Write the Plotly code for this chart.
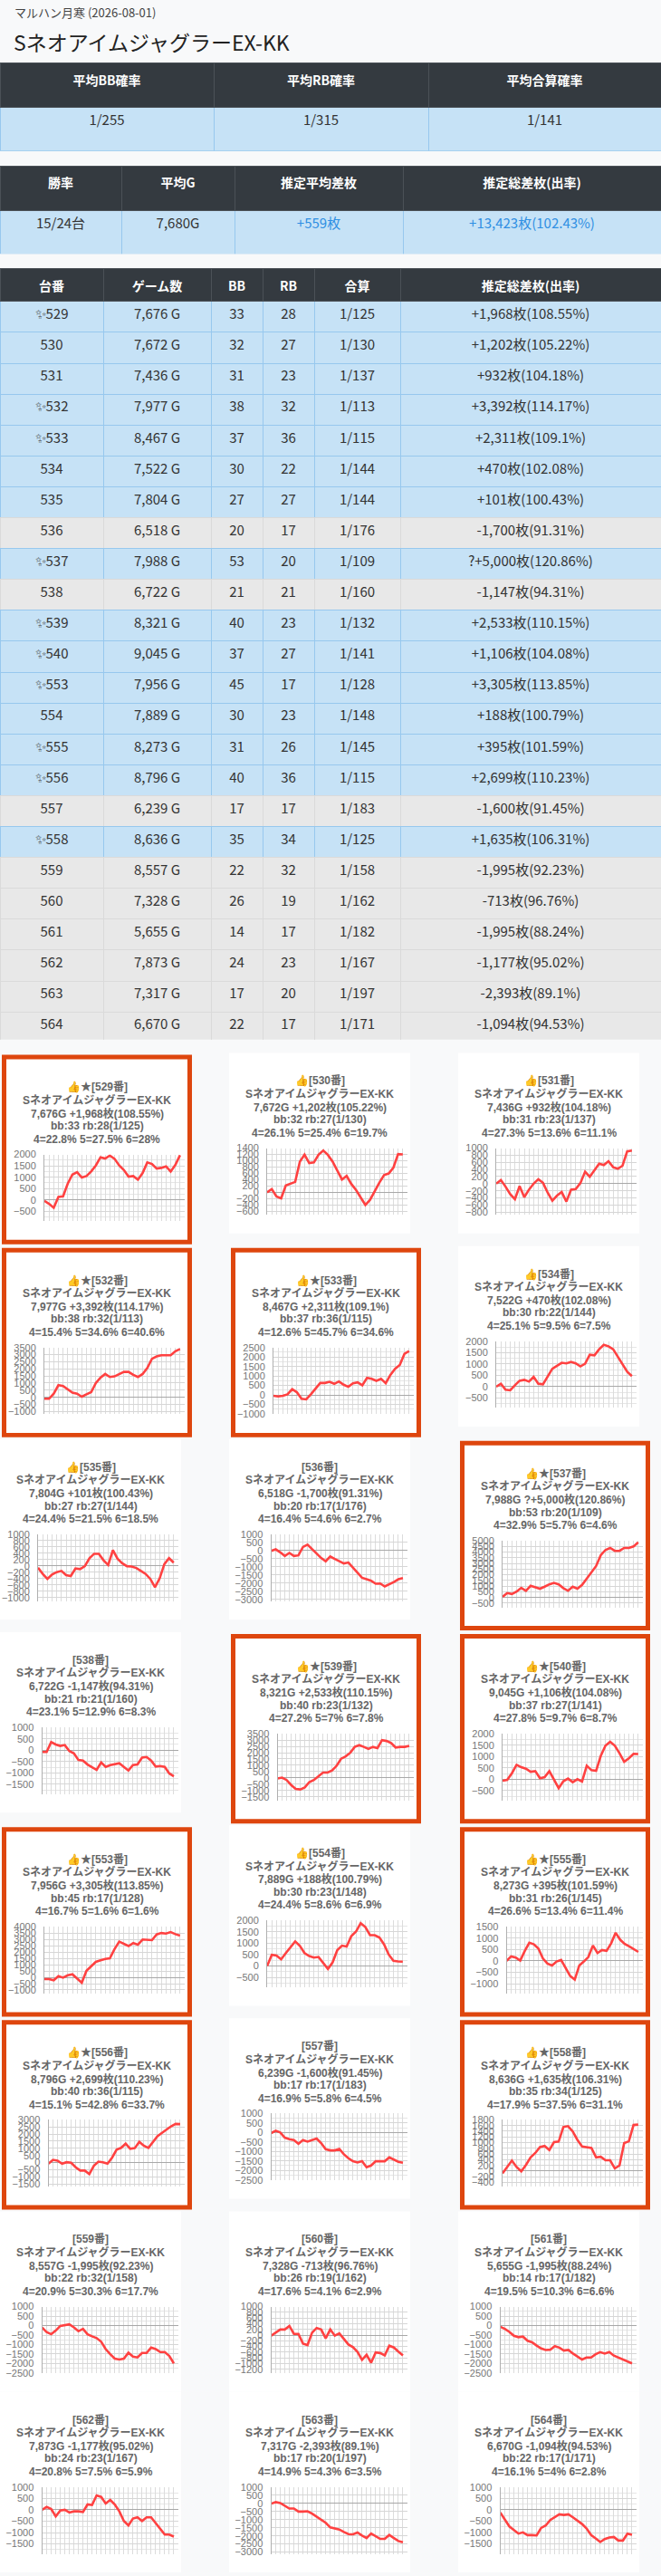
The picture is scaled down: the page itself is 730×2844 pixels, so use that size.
import plotly.graph_objects as go

W, H = 730, 2844

store_title = "マルハン月寒 (2026-08-01)"
model_name = "SネオアイムジャグラーEX-KK"

sum_headers = ["平均BB確率", "平均RB確率", "平均合算確率"]
sum_values = ["1/255", "1/315", "1/141"]
stat_headers = ["勝率", "平均G", "推定平均差枚", "推定総差枚(出率)"]
stat_values = ["15/24台", "7,680G", "+559枚", "+13,423枚(102.43%)"]
list_headers = ["台番", "ゲーム数", "BB", "RB", "合算", "推定総差枚(出率)"]

machines = [529, 530, 531, 532, 533, 534, 535, 536, 537, 538, 539, 540,
            553, 554, 555, 556, 557, 558, 559, 560, 561, 562, 563, 564]
games = [7676, 7672, 7436, 7977, 8467, 7522, 7804, 6518, 7988, 6722, 8321, 9045,
         7956, 7889, 8273, 8796, 6239, 8636, 8557, 7328, 5655, 7873, 7317, 6670]
bb = [33, 32, 31, 38, 37, 30, 27, 20, 53, 21, 40, 37, 45, 30, 31, 40, 17, 35, 22, 26, 14, 24, 17, 22]
rb = [28, 27, 23, 32, 36, 22, 27, 17, 20, 21, 23, 27, 17, 23, 26, 36, 17, 34, 32, 19, 17, 23, 20, 17]
gassan = [125, 130, 137, 113, 115, 144, 144, 176, 109, 160, 132, 141,
          128, 148, 145, 115, 183, 125, 158, 162, 182, 167, 197, 171]
diffs = ["+1,968", "+1,202", "+932", "+3,392", "+2,311", "+470", "+101", "-1,700",
         "?+5,000", "-1,147", "+2,533", "+1,106", "+3,305", "+188", "+395", "+2,699",
         "-1,600", "+1,635", "-1,995", "-713", "-1,995", "-1,177", "-2,393", "-1,094"]
rates = ["108.55", "105.22", "104.18", "114.17", "109.1", "102.08", "100.43", "91.31",
         "120.86", "94.31", "110.15", "104.08", "113.85", "100.79", "101.59", "110.23",
         "91.45", "106.31", "92.23", "96.76", "88.24", "95.02", "89.1", "94.53"]
starred = [529, 532, 533, 537, 539, 540, 553, 555, 556, 558]
p4 = ["22.8", "26.1", "27.3", "15.4", "12.6", "25.1", "24.4", "16.4", "32.9", "23.1", "27.2", "27.8",
      "16.7", "24.4", "26.6", "15.1", "16.9", "17.9", "20.9", "17.6", "19.5", "20.8", "14.9", "16.1"]
p5 = ["27.5", "25.4", "13.6", "34.6", "45.7", "9.5", "21.5", "4.6", "5.7", "12.9", "7", "9.7",
      "1.6", "8.6", "13.4", "42.8", "5.8", "37.5", "30.3", "4.1", "10.3", "7.5", "4.3", "4"]
p6 = ["28", "19.7", "11.1", "40.6", "34.6", "7.5", "18.5", "2.7", "4.6", "8.3", "7.8", "8.7",
      "1.6", "6.9", "11.4", "33.7", "4.5", "31.1", "17.7", "2.9", "6.6", "5.9", "3.5", "2.8"]

# y-axis tick spec per mini chart: top label, bottom label, step
ytop = [2000, 1400, 1000, 3500, 2500, 2000, 1000, 1000, 5000, 1000, 3500, 2000,
        4000, 2000, 1500, 3000, 1000, 1800, 1000, 1000, 1000, 1000, 1000, 1000]
ybot = [-500, -400, -600, -500, -500, -500, -800, -2500, 0, -1500, -1000, -500,
        -500, -500, -1000, -1000, -2000, -200, -2000, -1000, -2000, -1500, -2500, -1500]
ystep = [500, 200, 200, 500, 500, 500, 200, 500, 500, 500, 500, 500,
         500, 500, 500, 500, 500, 200, 500, 200, 500, 500, 500, 500]

# coin-difference trend series
s529 = [-40, -173, -346, 133, 160, 718, 1117, 1224, 984, 1051, 1250, 1516, 1875, 1822, 1955, 1809, 1516, 1317, 1024, 1051, 891, 1184, 1649, 1583, 1383, 1410, 1476, 1250, 1543, 1968]
s530 = [0, 104, -133, -190, 218, 284, 331, 975, 1193, 928, 947, 1193, 1326, 1184, 975, 691, 407, 521, 265, 76, -161, -398, -237, 57, 312, 549, 597, 786, 1212, 1202]
s531 = [0, 101, -84, -295, -438, -67, -379, -168, 0, 126, 25, -253, -480, -337, -236, -505, -168, -152, 17, 337, 194, 379, 564, 522, 632, 463, 421, 505, 909, 932]
s532 = [-106, -106, 256, 852, 788, 575, 320, 256, 43, 213, 362, 1001, 1385, 1640, 1427, 1470, 1640, 1789, 1789, 1576, 1427, 1640, 2066, 2705, 2876, 2961, 2961, 2961, 3238, 3392]
s533 = [-47, -79, -47, 32, 300, 142, -205, -237, 32, 348, 632, 632, 695, 585, 711, 537, 427, 616, 664, 506, 900, 853, 743, 853, 616, 1059, 1375, 1580, 2165, 2311]
s534 = [0, 132, -132, -158, 66, 263, 303, 224, 434, 132, 105, 461, 790, 921, 1053, 1026, 1092, 1026, 895, 1013, 1408, 1382, 1645, 1842, 1777, 1645, 1316, 987, 658, 470]
s535 = [-56, -253, -412, -272, -197, -159, -291, -319, -84, -103, -9, 244, 384, 384, 178, 28, 497, 225, 84, -9, -19, -66, -159, -253, -412, -675, -394, 56, 244, 101]
s536 = [-18, 74, -110, -332, -147, -332, -295, 221, 368, 92, -239, -460, -663, -368, -516, -663, -792, -737, -1068, -1381, -1676, -1768, -1860, -2045, -2026, -2210, -2082, -1934, -1768, -1700]
s537 = [51, 385, 308, 513, 846, 590, 1026, 897, 769, 949, 1154, 1282, 1154, 820, 590, 949, 769, 1103, 1667, 2256, 2769, 3718, 4179, 4359, 4102, 4102, 4359, 4359, 4487, 4850]
s538 = [-79, -79, 355, 250, 184, 224, -39, -145, -434, -461, -632, -737, -869, -540, -737, -658, -605, -579, -737, -895, -658, -632, -329, -303, -461, -724, -697, -737, -1026, -1147]
s539 = [-47, 23, -164, -562, -866, -913, -749, -328, -164, 117, 421, 421, 585, 959, 1521, 1708, 1989, 2457, 2597, 2457, 2293, 2457, 2363, 2995, 2925, 2761, 2410, 2457, 2457, 2533]
s540 = [-66, -26, 263, 632, 526, 461, 329, 355, 39, 92, 355, -39, -395, -92, 26, -132, 0, -105, 592, 395, 368, 1026, 1474, 1645, 1474, 1145, 763, 921, 1118, 1106]
s553 = [-141, -141, -236, 94, -24, 165, 236, -71, -424, 518, 872, 1225, 1343, 1461, 1508, 2238, 2827, 2639, 2474, 2709, 2592, 2992, 2945, 2945, 3393, 3510, 3463, 3581, 3416, 3305]
s554 = [0, 487, 461, 290, 566, 829, 1079, 882, 566, 434, 368, 395, 132, -132, 158, 697, 895, 855, 1316, 1513, 1882, 1711, 1355, 1355, 1250, 947, 500, 224, 197, 188]
s555 = [0, 200, 146, 13, 439, 798, 732, 545, 106, -120, -200, -27, 40, -319, -665, -825, -200, -27, 173, 678, 346, 479, 439, 771, 1237, 931, 745, 638, 505, 395]
s556 = [-84, 189, 126, -84, 21, -21, -337, -568, -568, -821, -232, 63, 21, -84, 337, 905, 1031, 1326, 968, 1010, 1452, 1179, 1031, 1431, 1852, 2084, 2336, 2547, 2715, 2699]
s557 = [-32, 96, 0, -271, -351, -399, -591, -399, -479, -399, -319, -559, -878, -942, -942, -862, -1149, -1357, -1516, -1580, -1516, -1835, -1740, -1516, -1516, -1516, -1309, -1420, -1548, -1600]
s558 = [-82, 144, 369, 144, -10, 215, 482, 636, 841, 882, 739, 1016, 1036, 1549, 1580, 1395, 1098, 862, 831, 811, 482, 503, 380, 380, 92, 195, 985, 1046, 1620, 1635]
s559 = [-94, -345, -455, -267, -16, 16, 63, -94, -298, -173, -455, -565, -659, -848, -1240, -1507, -1743, -1790, -1743, -1429, -1633, -1680, -1444, -1444, -1162, -1240, -1397, -1397, -1601, -1995]
s560 = [-21, 93, 197, 197, 321, 41, 41, -300, -352, 83, 249, 197, -114, 197, -21, 62, -124, -331, -425, -590, -870, -694, -974, -611, -632, -715, -373, -435, -580, -713]
s561 = [-63, -173, -330, -534, -612, -581, -801, -879, -1052, -1209, -1287, -1272, -1083, -1162, -1319, -1287, -1476, -1633, -1790, -1680, -1680, -1507, -1397, -1476, -1397, -1586, -1680, -1790, -1900, -1995]
s562 = [0, 132, 40, -291, -26, 0, -119, -66, -66, -93, 238, 212, 635, 569, 278, 437, 238, -66, -489, -688, -384, -331, -489, -331, -331, -595, -860, -1085, -1085, -1177]
s563 = [-19, 75, 19, -168, -318, -318, -505, -505, -487, -636, -824, -973, -1198, -1479, -1535, -1610, -1760, -1891, -1909, -1797, -1984, -2134, -1853, -2040, -2190, -2190, -1947, -2134, -2321, -2393]
s564 = [-119, -423, -728, -886, -1045, -992, -1111, -1111, -1125, -794, -688, -450, -318, -198, -225, -198, -331, -489, -622, -820, -1111, -1257, -1416, -1283, -1217, -1191, -1349, -1349, -1045, -1094]

series = [s529, s530, s531, s532, s533, s534, s535, s536, s537, s538, s539, s540,
          s553, s554, s555, s556, s557, s558, s559, s560, s561, s562, s563, s564]

# ---------------- styling ----------------
BG = "#f8f9fa"
HDR = "#343a40"
HDR_LINE = "#4b5157"
BLUE = "#c6e2f6"
BLUE_LINE = "#97c8ee"
GRAY = "#e8e8e8"
GRAY_LINE = "#dadada"
TXT = "#333333"
LINKBLUE = "#2f8fe3"
ORANGE = "#de460e"
FONT = "Noto Sans CJK JP"
CARD_FONT = "Liberation Sans, Noto Sans CJK JP"
SPARKLE = "\u2728\ufe0e"


def fx(px):
    return px / W


def fy(py):
    return 1 - py / H


fig = go.Figure()
annotations = []
shapes = []

annotations.append(dict(text=store_title, x=fx(14), y=fy(8), xref="paper", yref="paper",
                        xanchor="left", yanchor="middle", showarrow=False,
                        font=dict(family=FONT, size=13, color="#444")))
annotations.append(dict(text=model_name, x=fx(13), y=fy(40), xref="paper", yref="paper",
                        xanchor="left", yanchor="middle", showarrow=False,
                        font=dict(family=FONT, size=23, color="#222")))

# ---------- summary table 1 ----------
fig.add_trace(go.Table(
    domain=dict(x=[0, 1], y=[fy(162), fy(64)]),
    columnwidth=[236, 237, 257],
    header=dict(values=[f"<b>{h}</b>" for h in sum_headers], fill_color=HDR,
                line=dict(color=HDR_LINE, width=1), height=49, align="center",
                font=dict(family=FONT, size=14, color="white")),
    cells=dict(values=[[v] for v in sum_values], fill_color=BLUE,
               line=dict(color=BLUE_LINE, width=1), height=48, align="center",
               font=dict(family=FONT, size=15, color=TXT)),
))

# ---------- summary table 2 ----------
stat_colors = [TXT, TXT, LINKBLUE, LINKBLUE]
fig.add_trace(go.Table(
    domain=dict(x=[0, 1], y=[fy(276), fy(178)]),
    columnwidth=[134, 125, 186, 285],
    header=dict(values=[f"<b>{h}</b>" for h in stat_headers], fill_color=HDR,
                line=dict(color=HDR_LINE, width=1), height=49, align="center",
                font=dict(family=FONT, size=14, color="white")),
    cells=dict(values=[[v] for v in stat_values], fill_color=BLUE,
               line=dict(color=BLUE_LINE, width=1), height=48, align="center",
               font=dict(family=FONT, size=15, color=[[c] for c in stat_colors])),
))

# ---------- machine list table ----------
positive = [not d.startswith("-") for d in diffs]
row_fill = [BLUE if p else GRAY for p in positive]
row_line = [BLUE_LINE if p else GRAY_LINE for p in positive]
col_no = [(SPARKLE if m in starred else "") + str(m) for m in machines]
col_g = [f"{g:,} G" for g in games]
col_gs = [f"1/{g}" for g in gassan]
col_diff = [f"{d}枚({r}%)" for d, r in zip(diffs, rates)]
fig.add_trace(go.Table(
    domain=dict(x=[0, 1], y=[fy(1147), fy(292)]),
    columnwidth=[114, 119, 57, 57, 95, 288],
    header=dict(values=[f"<b>{h}</b>" for h in list_headers], fill_color=HDR,
                line=dict(color=HDR_LINE, width=1), height=35, align="center",
                font=dict(family=FONT, size=14, color="white")),
    cells=dict(values=[col_no, col_g, bb, rb, col_gs, col_diff],
               fill_color=[row_fill] * 6, line=dict(color=[row_line] * 6, width=1),
               height=34.1, align="center",
               font=dict(family=FONT, size=15, color=TXT)),
))

# ---------- mini chart cards ----------
col_x = [0, 253, 506]
row_top = [1161, 1375, 1589, 1803, 2017, 2231, 2445, 2645]
layout_axes = {}
for i, m in enumerate(machines):
    r, c = divmod(i, 3)
    cx, ry = col_x[c], row_top[r]
    hi = m in starred
    if hi:
        shapes.append(dict(type="rect", xref="paper", yref="paper", layer="below",
                           x0=fx(cx + 2), x1=fx(cx + 212), y0=fy(ry + 212), y1=fy(ry + 2),
                           fillcolor=ORANGE, line=dict(width=0)))
        ix, iy = cx + 7, ry + 7
    else:
        ix, iy = cx, ry
    shapes.append(dict(type="rect", xref="paper", yref="paper", layer="below",
                       x0=fx(ix), x1=fx(ix + 200), y0=fy(iy + 200), y1=fy(iy),
                       fillcolor="white", line=dict(width=0)))

    head = ("👍" if positive[i] else "") + ("★" if hi else "") + f"[{m}番]"
    lines = [head, model_name,
             f"{games[i]:,}G {diffs[i]}枚({rates[i]}%)",
             f"bb:{bb[i]} rb:{rb[i]}(1/{gassan[i]})",
             f"4={p4[i]}% 5={p5[i]}% 6={p6[i]}%"]
    for k, (t, dy) in enumerate(zip(lines, [31, 45, 60, 74, 88.5])):
        annotations.append(dict(text=f"<b>{t}</b>", x=fx(ix + 100), y=fy(iy + dy),
                                xref="paper", yref="paper", xanchor="center", yanchor="middle",
                                showarrow=False,
                                font=dict(family=CARD_FONT, size=12, color="#666")))

    n = len(series[i])
    ax = "" if i == 0 else str(i + 1)
    left = 46.5 if len(str(ybot[i])) >= 5 else 42
    span = ytop[i] - ybot[i]
    nlab = span // ystep[i] + 1
    fig.add_trace(go.Scatter(x=list(range(n)), y=series[i], mode="lines",
                             line=dict(color="#ff4141", width=2.6),
                             xaxis="x" + ax, yaxis="y" + ax, showlegend=False,
                             hoverinfo="skip"))
    layout_axes["xaxis" + ax] = dict(domain=[fx(ix + left), fx(ix + 197)], anchor="y" + ax,
                                     range=[0, n], dtick=1, tick0=0, showticklabels=False,
                                     showgrid=True, gridcolor="#dcdcdc", gridwidth=1,
                                     zeroline=False, showline=False, fixedrange=True)
    ydict = dict(domain=[fy(iy + 179.5), fy(iy + 105.5)], anchor="x" + ax,
                 range=[ybot[i] - span * 11 / 63, ytop[i]], tick0=ybot[i], dtick=ystep[i],
                 showgrid=True, gridcolor="#d6d6d6", gridwidth=1,
                 zeroline=True, zerolinecolor="#a8a8a8", zerolinewidth=1,
                 showline=True, linecolor="#b0b0b0", linewidth=1,
                 ticks="", ticklabelstandoff=6,
                 tickfont=dict(family="Liberation Sans", size=11, color="#777"),
                 fixedrange=True)
    if nlab <= 7:
        ydict["minor"] = dict(dtick=ystep[i] / 2, tick0=ybot[i], showgrid=True,
                              gridcolor="#e6e6e6", gridwidth=1)
    layout_axes["yaxis" + ax] = ydict

fig.update_layout(
    width=W, height=H, margin=dict(l=0, r=0, t=0, b=0),
    paper_bgcolor=BG, plot_bgcolor="rgba(0,0,0,0)",
    showlegend=False, annotations=annotations, shapes=shapes,
    **layout_axes,
)

fig.write_html("out.html", config={"displayModeBar": False},
               post_script="document.body.style.margin='0';document.body.style.padding='0';")
